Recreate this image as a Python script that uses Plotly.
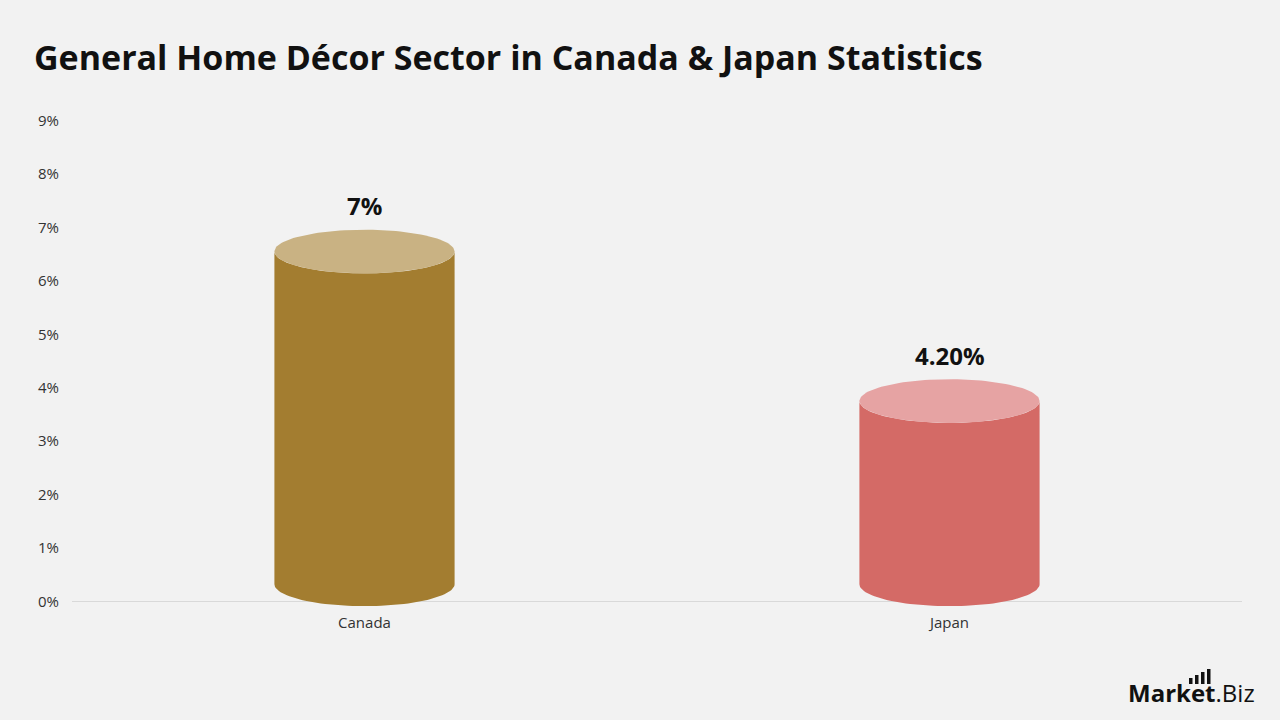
import numpy as np
import plotly.graph_objects as go

categories = ["Canada", "Japan"]
values = [7.0, 4.2]
value_labels = ["7%", "4.20%"]
body_colors = ["#A37D30", "#D46A66"]
top_colors = ["#C9B283", "#E6A3A3"]
y_ticks = [0, 1, 2, 3, 4, 5, 6, 7, 8, 9]
y_tick_labels = [f"{t}%" for t in y_ticks]

FONT = "Open Sans"
RX = 0.154      # half width in category units
RY = 0.41       # ellipse half height in data units
BASE = 0.32     # centre of bottom ellipse
TOP_GAP = 0.04

# plot area in pixels (for paper-coordinate placement of logo)
L, R, T, B = 72, 38, 110, 108
PW, PH = 1280 - L - R, 720 - T - B


def px2paper(x, y):
    return (x - L) / PW, (720 - B - y) / PH


fig = go.Figure()
t_full = np.linspace(0, 2 * np.pi, 120)

for i, (cat, v) in enumerate(zip(categories, values)):
    x0 = i
    top_c = v - TOP_GAP - RY
    px, py = [], []
    ang = np.linspace(np.pi, 2 * np.pi, 60)
    px += list(x0 + RX * np.cos(ang))
    py += list(BASE + RY * np.sin(ang))
    px += [x0 + RX]
    py += [top_c]
    ang2 = np.linspace(0, -np.pi, 60)
    px += list(x0 + RX * np.cos(ang2))
    py += list(top_c + RY * np.sin(ang2))
    px += [x0 - RX]
    py += [BASE]
    fig.add_trace(go.Scatter(x=px, y=py, fill="toself", mode="lines",
                             line=dict(width=0, color=body_colors[i]),
                             fillcolor=body_colors[i], hoverinfo="skip",
                             showlegend=False))
    fig.add_trace(go.Scatter(x=x0 + RX * np.cos(t_full), y=top_c + RY * np.sin(t_full),
                             fill="toself", mode="lines",
                             line=dict(width=0, color=top_colors[i]),
                             fillcolor=top_colors[i], hoverinfo="skip",
                             showlegend=False))
    fig.add_annotation(x=x0, y=v, text=f"<b>{value_labels[i]}</b>", showarrow=False,
                       yanchor="middle", yshift=22,
                       font=dict(family=FONT, size=24, color="#111111"))

fig.update_layout(
    width=1280, height=720,
    paper_bgcolor="#F2F2F2", plot_bgcolor="#F2F2F2",
    margin=dict(l=L, r=R, t=T, b=B),
    title=dict(text="<b>General Home Décor Sector in Canada & Japan Statistics</b>",
               x=34 / 1280, xanchor="left", y=1 - 58 / 720, yanchor="middle",
               font=dict(family=FONT, size=34, color="#111111")),
    xaxis=dict(range=[-0.5, 1.5], tickvals=[0, 1], ticktext=categories,
               showgrid=False, zeroline=False, showline=False,
               tickfont=dict(family=FONT, size=15, color="#333333")),
    yaxis=dict(range=[-0.2, 9.2], tickvals=y_ticks, ticktext=y_tick_labels,
               showgrid=False, zeroline=True, zerolinecolor="#D9D9D9", zerolinewidth=1,
               showline=False, ticklabelstandoff=12,
               tickfont=dict(family=FONT, size=15, color="#333333")),
    showlegend=False,
)

# logo
lx, ly = px2paper(1257, 692)
fig.add_annotation(x=lx, y=ly, xref="paper", yref="paper",
                   xanchor="right", yanchor="middle", showarrow=False,
                   text="<b>Market</b>.Biz",
                   font=dict(family=FONT, size=24, color="#111111"))
for j, h in enumerate([6, 9, 12, 15]):
    xa = 1189 + j * 6
    x0p, y0p = px2paper(xa, 684)
    x1p, y1p = px2paper(xa + 3.5, 684 - h)
    fig.add_shape(type="rect", xref="paper", yref="paper",
                  x0=x0p, x1=x1p, y0=y0p, y1=y1p,
                  fillcolor="#111111", line=dict(width=0))

fig.write_html("out.html")
